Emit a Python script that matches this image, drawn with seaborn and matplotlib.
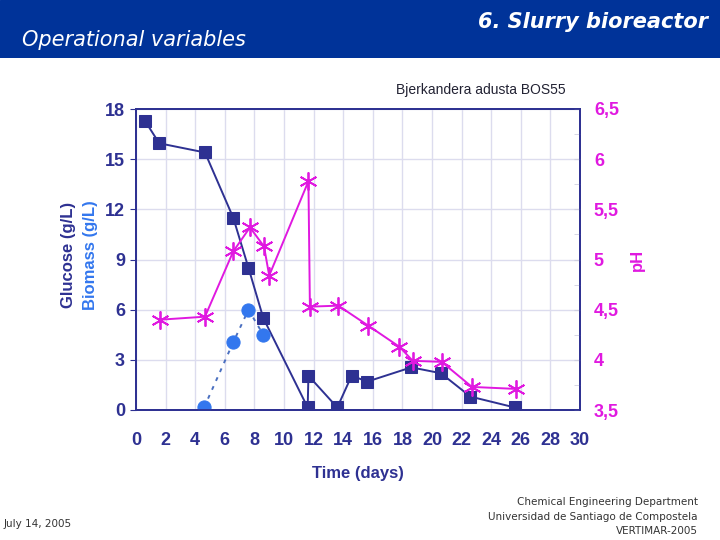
import numpy as np
import pandas as pd
import seaborn as sns
import matplotlib
matplotlib.use("Agg")
import matplotlib.pyplot as plt
from matplotlib.ticker import MultipleLocator, FuncFormatter

# values
glucose_days = [0.6, 1.57, 4.66, 6.57, 7.6, 8.6, 11.6, 11.65, 13.6, 14.57, 15.63, 18.6, 20.6, 22.6, 25.6]
glucose = [17.3, 15.95, 15.4, 11.5, 8.5, 5.5, 0.15, 2.05, 0.15, 2.05, 1.7, 2.55, 2.2, 0.8, 0.15]

biomass_days = [4.6, 6.57, 7.6, 8.6]
biomass = [0.15, 4.05, 6.0, 4.5]

ph_days = [1.62, 4.66, 6.57, 7.7, 8.65, 9.0, 11.65, 11.75, 13.67, 15.7, 17.8, 18.7, 20.65, 22.7, 25.7]
ph = [4.4, 4.43, 5.08, 5.32, 5.13, 4.84, 5.78, 4.53, 4.54, 4.34, 4.13, 3.99, 3.98, 3.73, 3.71]

x_ticks = list(range(0, 31, 2))
left_ticks = [0, 3, 6, 9, 12, 15, 18]
right_ticks = [3.5, 4, 4.5, 5, 5.5, 6, 6.5]

NAVY = "#2E3192"
BLUE = "#3377EE"
MAGENTA = "#E019E0"
GRID = "#DCDCEE"

sns.set_style("white")
plt.rcParams["font.family"] = ["Liberation Sans", "DejaVu Sans"]

fig = plt.figure(figsize=(7.2, 5.4), dpi=100)

# header band
band = fig.add_axes([0, 1 - 58 / 540, 1, 58 / 540])
band.set_axis_off()
band.add_patch(plt.Rectangle((0, 0), 1, 1, color="#003399", transform=band.transAxes))
fig.text(22 / 720, 1 - 40 / 540, "Operational variables", color="white", fontsize=15,
         style="italic", family="DejaVu Sans", va="center", ha="left")
fig.text(708 / 720, 1 - 22 / 540, "6. Slurry bioreactor", color="white", fontsize=15,
         style="italic", weight="bold", family="DejaVu Sans", va="center", ha="right")

ax = fig.add_axes([136 / 720, 1 - 410 / 540, 444 / 720, 301 / 540])
ax2 = ax.twinx()

gdf = pd.DataFrame({"day": glucose_days, "glucose": glucose})
bdf = pd.DataFrame({"day": biomass_days, "biomass": biomass})
pdf = pd.DataFrame({"day": ph_days, "ph": ph})

sns.lineplot(data=gdf, x="day", y="glucose", ax=ax, sort=False, estimator=None,
             color=NAVY, lw=1.4, marker="s", markersize=9, markeredgecolor=NAVY, zorder=3)
sns.lineplot(data=bdf, x="day", y="biomass", ax=ax, sort=False, estimator=None,
             color="#4A6FC0", lw=1.4, linestyle=(0, (2, 3)), zorder=2)
sns.scatterplot(data=bdf, x="day", y="biomass", ax=ax, color=BLUE, s=90,
                edgecolor=BLUE, zorder=4)
sns.lineplot(data=pdf, x="day", y="ph", ax=ax2, sort=False, estimator=None,
             color=MAGENTA, lw=1.4, marker=(6, 2, 0), markersize=13,
             markeredgecolor=MAGENTA, markeredgewidth=1.3, zorder=3)

ax.set_xlim(0, 30)
ax.set_ylim(0, 18)
ax2.set_ylim(3.5, 6.5)
ax.set_xticks(x_ticks)
ax.set_yticks(left_ticks)
ax2.set_yticks(right_ticks)
ax.xaxis.set_minor_locator(MultipleLocator(1))
ax2.yaxis.set_minor_locator(MultipleLocator(0.25))
ax2.yaxis.set_major_formatter(FuncFormatter(lambda v, p: ("%g" % v).replace(".", ",")))

ax.grid(True, color=GRID, lw=1)
ax.set_axisbelow(True)
for sp in list(ax.spines.values()) + list(ax2.spines.values()):
    sp.set_color(NAVY)
    sp.set_linewidth(1.3)

ax.tick_params(axis="x", colors="#D0D0E0", labelcolor=NAVY, labelsize=13, direction="in",
               length=4, pad=16)
ax.tick_params(axis="x", which="minor", colors="#D0D0E0", direction="in", length=3)
ax.tick_params(axis="y", colors=NAVY, labelcolor=NAVY, labelsize=13, direction="out",
               length=4, pad=4)
ax2.tick_params(axis="y", colors="#D0D0E0", labelcolor=MAGENTA, labelsize=13, direction="in",
                length=4, pad=10)
ax2.tick_params(axis="y", which="minor", colors="#D0D0E0", direction="in", length=4)
for lab in ax.get_xticklabels() + ax.get_yticklabels() + ax2.get_yticklabels():
    lab.set_fontweight("bold")

ax.set_xlabel("Time (days)", fontsize=12, fontweight="bold", color=NAVY, labelpad=12)
ax.set_ylabel("")
ax2.set_ylabel("pH", fontsize=12, fontweight="bold", color=MAGENTA, labelpad=8)

fig.text(68 / 720, 1 - 255 / 540, "Glucose (g/L)", rotation=90, fontsize=12, fontweight="bold",
         color=NAVY, ha="center", va="center")
fig.text(90 / 720, 1 - 255 / 540, "Biomass (g/L)", rotation=90, fontsize=12, fontweight="bold",
         color=BLUE, ha="center", va="center")
fig.text(481 / 720, 1 - 90 / 540, "Bjerkandera adusta BOS55", fontsize=10, color="#222233",
         ha="center", va="center")

# footer
fig.text(4 / 720, 1 - 524 / 540, "July 14, 2005", fontsize=7.5, color="#333333",
         family="DejaVu Sans", va="center")
for i, line in enumerate(["Chemical Engineering Department",
                          "Universidad de Santiago de Compostela",
                          "VERTIMAR-2005"]):
    fig.text(698 / 720, 1 - (502 + 14.5 * i) / 540, line, fontsize=7.5, color="#333333",
             family="DejaVu Sans", ha="right", va="center")

fig.savefig("out.png", dpi=100)
